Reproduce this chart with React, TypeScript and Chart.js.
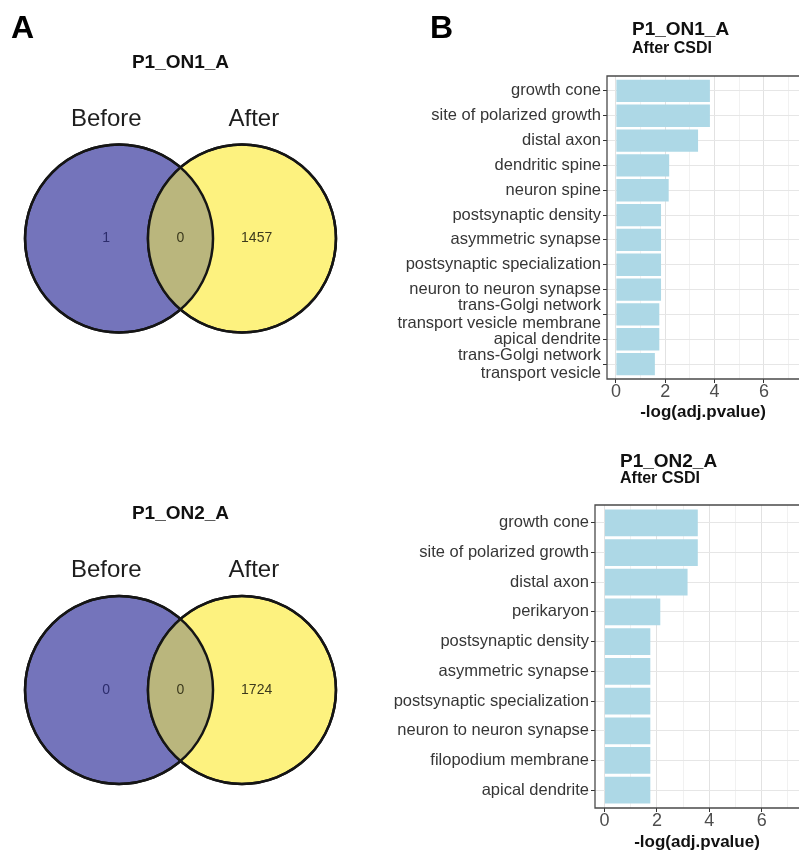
import React, { useEffect, useRef } from 'react';
import { Chart, registerables } from 'chart.js';

Chart.register(...registerables);

const FONT = '"Liberation Sans", Arial, Helvetica, sans-serif';
Chart.defaults.font.family = FONT;

// ---------------- Data ----------------
const vennSetNames = ['Before', 'After'];
const venn1Title = 'P1_ON1_A';
const venn1Counts = [1, 0, 1457]; // before only, both, after only
const venn2Title = 'P1_ON2_A';
const venn2Counts = [0, 0, 1724];

const barSubtitle = 'After CSDI';
const bar1Title = 'P1_ON1_A';
const bar1Terms: (string | string[])[] = [
  'growth cone',
  'site of polarized growth',
  'distal axon',
  'dendritic spine',
  'neuron spine',
  'postsynaptic density',
  'asymmetric synapse',
  'postsynaptic specialization',
  'neuron to neuron synapse',
  ['trans-Golgi network', 'transport vesicle membrane'],
  'apical dendrite',
  ['trans-Golgi network', 'transport vesicle'],
];
const bar1Values = [3.81, 3.81, 3.33, 2.16, 2.14, 1.83, 1.83, 1.83, 1.83, 1.76, 1.76, 1.58];

const bar2Title = 'P1_ON2_A';
const bar2Terms: (string | string[])[] = [
  'growth cone',
  'site of polarized growth',
  'distal axon',
  'perikaryon',
  'postsynaptic density',
  'asymmetric synapse',
  'postsynaptic specialization',
  'neuron to neuron synapse',
  'filopodium membrane',
  'apical dendrite',
];
const bar2Values = [3.56, 3.56, 3.17, 2.13, 1.75, 1.75, 1.75, 1.75, 1.75, 1.75];

const xMajorTicks = [0, 2, 4, 6];
const xMinorTicks = [1, 3, 5, 7];
const xAxisTitle = '-log(adj.pvalue)';

// ---------------- Styles / geometry ----------------
const VENN_BLUE = '#7474bb';
const VENN_YELLOW = '#fdf27f';
const VENN_MIX = '#bab67d';
const VENN_COUNT_COLORS = ['#2c2c6c', '#3c3a1d', '#3c3a1d'];
const VENN_PX = 94; // pixels per unit
const VENN_R = 1;
const VENN_HALF_GAP = 0.654;
const VENN_COUNT_X = [-0.79, 0, 0.81];
const VENN_NAME_X = [-0.79, 0.78];
const VENN_NAME_Y = 1.27;
const VENN_TITLE_Y = 1.87;

const BAR_COLOR = '#add8e6';
const X_MIN = -0.36;
const X_MAX = 7.42;

type TextSpec = {
  text: string;
  x: number;
  y: number;
  size: number;
  bold?: boolean;
  color?: string;
  align?: CanvasTextAlign;
  baseline?: CanvasTextBaseline;
};

function drawText(ctx: CanvasRenderingContext2D, t: TextSpec) {
  ctx.save();
  ctx.font = `${t.bold ? 'bold ' : ''}${t.size}px ${FONT}`;
  ctx.fillStyle = t.color ?? '#000';
  ctx.textAlign = t.align ?? 'center';
  ctx.textBaseline = t.baseline ?? 'middle';
  ctx.fillText(t.text, t.x, t.y);
  ctx.restore();
}

function VennPanel(props: {
  title: string;
  counts: number[];
  left: number;
  top: number;
  width: number;
  height: number;
  centerY: number;
  letter?: string;
}) {
  const { title, counts, left, top, width, height, centerY, letter } = props;
  const ref = useRef<HTMLCanvasElement>(null);
  useEffect(() => {
    const cx = 180.5;
    const xMin = -cx / VENN_PX;
    const xMax = (width - cx) / VENN_PX;
    const yMin = -(height - centerY) / VENN_PX;
    const yMax = centerY / VENN_PX;

    const plugin = {
      id: 'vennDecor',
      afterDatasetsDraw(chart: any) {
        const ctx: CanvasRenderingContext2D = chart.ctx;
        const pts = chart.getDatasetMeta(0).data as any[];
        const [a, b] = pts;
        ctx.save();
        ctx.beginPath();
        ctx.arc(a.x, a.y, a.options.radius, 0, Math.PI * 2);
        ctx.clip();
        ctx.beginPath();
        ctx.arc(b.x, b.y, b.options.radius, 0, Math.PI * 2);
        ctx.fillStyle = VENN_MIX;
        ctx.fill();
        ctx.restore();
        ctx.save();
        ctx.lineWidth = 2.5;
        ctx.strokeStyle = '#151515';
        for (const p of pts) {
          ctx.beginPath();
          ctx.arc(p.x, p.y, p.options.radius, 0, Math.PI * 2);
          ctx.stroke();
        }
        ctx.restore();
      },
      afterDraw(chart: any) {
        const ctx: CanvasRenderingContext2D = chart.ctx;
        const xs = chart.scales.x;
        const ys = chart.scales.y;
        drawText(ctx, { text: title, x: xs.getPixelForValue(0), y: ys.getPixelForValue(VENN_TITLE_Y), size: 19, bold: true, color: '#111' });
        vennSetNames.forEach((n, i) => {
          drawText(ctx, { text: n, x: xs.getPixelForValue(VENN_NAME_X[i]), y: ys.getPixelForValue(VENN_NAME_Y), size: 24, color: '#1e1e1e' });
        });
        counts.forEach((c, i) => {
          drawText(ctx, { text: String(c), x: xs.getPixelForValue(VENN_COUNT_X[i]), y: ys.getPixelForValue(0), size: 14, color: VENN_COUNT_COLORS[i] });
        });
        if (letter) {
          drawText(ctx, { text: letter, x: 11, y: 38, size: 32, bold: true, align: 'left', baseline: 'alphabetic', color: '#000' });
        }
      },
    };

    const chart = new Chart(ref.current as HTMLCanvasElement, {
      type: 'scatter',
      data: {
        datasets: [
          {
            data: [
              { x: -VENN_HALF_GAP, y: 0 },
              { x: VENN_HALF_GAP, y: 0 },
            ],
            pointRadius: (ctx: any) => {
              const s = ctx.chart.scales.x;
              return Math.abs(s.getPixelForValue(VENN_R) - s.getPixelForValue(0));
            },
            pointBackgroundColor: [VENN_BLUE, VENN_YELLOW],
            pointBorderColor: '#151515',
            pointBorderWidth: 2.5,
            showLine: false,
            clip: false,
          } as any,
        ],
      },
      options: {
        responsive: false,
        animation: false,
        events: [],
        layout: { padding: 0 },
        plugins: { legend: { display: false }, tooltip: { enabled: false } },
        scales: {
          x: { type: 'linear', min: xMin, max: xMax, display: false },
          y: { type: 'linear', min: yMin, max: yMax, display: false },
        },
      } as any,
      plugins: [plugin],
    });
    return () => chart.destroy();
  }, []);
  return (
    <canvas
      ref={ref}
      width={width}
      height={height}
      style={{ position: 'absolute', left, top, width, height }}
    />
  );
}

function BarPanel(props: {
  title: string;
  terms: (string | string[])[];
  values: number[];
  left: number;
  top: number;
  width: number;
  height: number;
  plotLeft: number;
  plotTop: number;
  plotBottom: number;
  titleX: number;
  titleY: number;
  subtitleY: number;
  letter?: string;
}) {
  const p = props;
  const ref = useRef<HTMLCanvasElement>(null);
  useEffect(() => {
    const n = p.terms.length;
    const isMajor = (v: number) => xMajorTicks.includes(v);
    const allXTicks = [...xMajorTicks, ...xMinorTicks].sort((a, b) => a - b);

    const plugin = {
      id: 'barDecor',
      afterDatasetsDraw(chart: any) {
        const ctx: CanvasRenderingContext2D = chart.ctx;
        const a = chart.chartArea;
        ctx.save();
        ctx.strokeStyle = '#4a4a4a';
        ctx.lineWidth = 1.3;
        ctx.beginPath();
        ctx.moveTo(a.right + 2, a.top);
        ctx.lineTo(a.left, a.top);
        ctx.lineTo(a.left, a.bottom);
        ctx.lineTo(a.right + 2, a.bottom);
        ctx.stroke();
        ctx.restore();
      },
      afterDraw(chart: any) {
        const ctx: CanvasRenderingContext2D = chart.ctx;
        drawText(ctx, { text: p.title, x: p.titleX, y: p.titleY, size: 19, bold: true, align: 'left', color: '#111' });
        drawText(ctx, { text: barSubtitle, x: p.titleX, y: p.subtitleY, size: 16, bold: true, align: 'left', color: '#111' });
        if (p.letter) {
          drawText(ctx, { text: p.letter, x: 45, y: 38, size: 32, bold: true, align: 'left', baseline: 'alphabetic', color: '#000' });
        }
      },
    };

    const chart = new Chart(ref.current as HTMLCanvasElement, {
      type: 'bar',
      data: {
        datasets: [
          {
            data: p.values.map((v, i) => ({ x: v, y: i })),
            backgroundColor: BAR_COLOR,
            borderWidth: 0,
            barPercentage: 0.9,
            categoryPercentage: 1,
          } as any,
        ],
      },
      options: {
        indexAxis: 'y',
        responsive: false,
        animation: false,
        events: [],
        layout: { padding: { top: p.plotTop, left: 0, right: 0, bottom: 0 } },
        plugins: { legend: { display: false }, tooltip: { enabled: false } },
        scales: {
          x: {
            type: 'linear',
            min: X_MIN,
            max: X_MAX,
            offset: false,
            afterBuildTicks: (s: any) => {
              s.ticks = allXTicks.map((v) => ({ value: v }));
            },
            afterFit: (s: any) => {
              s.height = p.height - p.plotBottom;
            },
            ticks: {
              autoSkip: false,
              maxRotation: 0,
              padding: 0,
              color: '#4d4d4d',
              font: { size: 18, lineHeight: 1 },
              callback: (v: number) => (isMajor(v) ? String(v) : ''),
            },
            grid: {
              offset: false,
              drawTicks: true,
              tickLength: 4,
              tickWidth: 1,
              color: (c: any) => (c.tick && isMajor(c.tick.value) ? '#e2e2e2' : '#ededed'),
              lineWidth: (c: any) => (c.tick && isMajor(c.tick.value) ? 1 : 0.8),
              tickColor: (c: any) => (c.tick && isMajor(c.tick.value) ? '#333' : 'rgba(0,0,0,0)'),
            },
            border: { display: false },
            title: {
              display: true,
              text: xAxisTitle,
              color: '#111',
              font: { size: 17, weight: 'bold' },
              padding: { top: 0, bottom: p.height === 430 ? 7 : 2 },
            },
          },
          y: {
            type: 'linear',
            reverse: true,
            offset: false,
            min: -0.6,
            max: n - 1 + 0.6,
            afterBuildTicks: (s: any) => {
              s.ticks = p.terms.map((_, i) => ({ value: i }));
            },
            afterFit: (s: any) => {
              s.width = p.plotLeft;
            },
            ticks: {
              autoSkip: false,
              padding: 2,
              color: '#363636',
              font: { size: 16.5, lineHeight: 1.1 },
              callback: (v: number) => p.terms[v],
            },
            grid: {
              offset: false,
              drawTicks: true,
              tickLength: 4,
              tickWidth: 1,
              color: '#e6e6e6',
              lineWidth: 1,
              tickColor: '#333',
            },
            border: { display: false },
          },
        },
      } as any,
      plugins: [plugin],
    });
    return () => chart.destroy();
  }, []);
  return (
    <canvas
      ref={ref}
      width={p.width}
      height={p.height}
      style={{ position: 'absolute', left: p.left, top: p.top, width: p.width, height: p.height }}
    />
  );
}

export default function App() {
  return (
    <div
      style={{
        position: 'absolute',
        left: 0,
        top: 0,
        width: 799,
        height: 855,
        background: '#ffffff',
        overflow: 'hidden',
      }}
    >
      <VennPanel title={venn1Title} counts={venn1Counts} left={0} top={0} width={385} height={430} centerY={238.5} letter="A" />
      <VennPanel title={venn2Title} counts={venn2Counts} left={0} top={440} width={385} height={415} centerY={250} />
      <BarPanel
        title={bar1Title}
        terms={bar1Terms}
        values={bar1Values}
        left={385}
        top={0}
        width={414}
        height={430}
        plotLeft={222}
        plotTop={76}
        plotBottom={379}
        titleX={247}
        titleY={30}
        subtitleY={48.5}
        letter="B"
      />
      <BarPanel
        title={bar2Title}
        terms={bar2Terms}
        values={bar2Values}
        left={385}
        top={440}
        width={414}
        height={415}
        plotLeft={210}
        plotTop={65}
        plotBottom={368}
        titleX={235}
        titleY={22}
        subtitleY={39}
      />
    </div>
  );
}
